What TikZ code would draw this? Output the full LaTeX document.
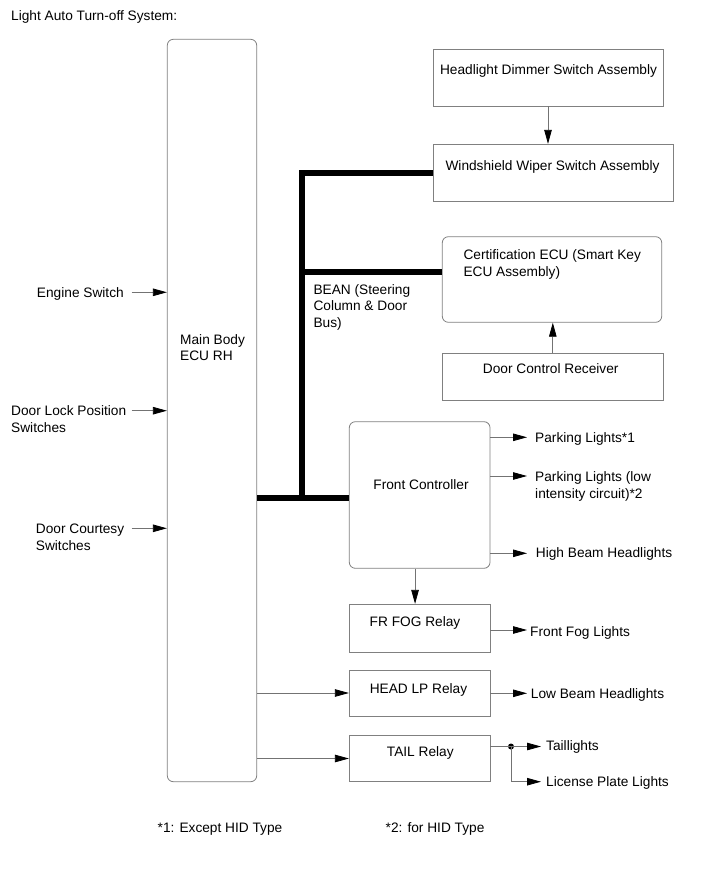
\documentclass[tikz,border=0pt]{standalone}
\usepackage{fontspec}
\setmainfont{Liberation Sans}
\usetikzlibrary{arrows.meta}

\begin{document}
\begin{tikzpicture}
[x=1pt,y=-1pt,
 box/.style={draw=black!50,line width=0.8pt,inner sep=0pt},
 rbox/.style={box,rounded corners=6pt},
 txt/.style={inner sep=0pt,font=\fontsize{13.7}{16.8}\selectfont,align=left},
 line/.style={draw=black!55,line width=0.8pt},
 arr/.style={line,-{Triangle[length=14pt,width=7.5pt,color=black]}},
 bus/.style={line width=6pt,black}]
\useasboundingbox (0,0) rectangle (713,882);
\node[txt,anchor=base west] (title) at (11,20.3) {Light Auto Turn-off System:};
% boxes
\node[rbox,minimum width=89.4pt,minimum height=742.4pt] (main) at (212,410.5) {};
\node[box,minimum width=230pt,minimum height=56.7pt] (dim) at (548,77.65) {};
\node[box,minimum width=240pt,minimum height=56.7pt] (wiper) at (553,172.65) {};
\node[rbox,minimum width=219.4pt,minimum height=85.6pt] (cert) at (552,279.5) {};
\node[box,minimum width=221pt,minimum height=46.7pt] (dcr) at (552.8,376.65) {};
\node[rbox,minimum width=140.7pt,minimum height=146.6pt] (fc) at (419.65,495) {};
\foreach \n/\y/\h in {fog/628.5/48.4,head/693/46,tail/758.5/46.4}
  \node[box,minimum width=140.7pt,minimum height=\h pt] (\n) at (419.65,\y) {};
% box texts (multi-line nodes sit on their last line)
\node[txt,anchor=base west] (maint) at (180,360.8) {Main Body\\ECU RH};
\node[txt,anchor=base] (dimt) at (548.5,74.3) {Headlight Dimmer Switch Assembly};
\node[txt,anchor=base] (wipert) at (552.5,170.7) {Windshield Wiper Switch Assembly};
\node[txt,anchor=base west] (certt) at (463.3,276.3) {Certification ECU (Smart Key\\ECU Assembly)};
\node[txt,anchor=base] (dcrt) at (550.7,373.3) {Door Control Receiver};
\node[txt,anchor=base] (fct) at (421,489) {Front Controller};
\node[txt,anchor=base] (fogt) at (415,626.7) {FR FOG Relay};
\node[txt,anchor=base] (headt) at (418.5,693.7) {HEAD LP Relay};
\node[txt,anchor=base] (tailt) at (420.3,756.7) {TAIL Relay};
\node[txt,anchor=base west] (bean) at (313.3,327.6) {BEAN (Steering\\Column \& Door\\Bus)};
% inputs and outputs
\node[txt,anchor=base east] (eng) at (124,297.3) {Engine Switch};
\node[txt,anchor=base west] (dlock) at (11,432.1) {Door Lock Position\\Switches};
\node[txt,anchor=base west] (dcourt) at (35.7,550.1) {Door Courtesy\\Switches};
\node[txt,anchor=base west] (park1) at (535,442.3) {Parking Lights*1};
\node[txt,anchor=base west] (park2) at (535,498.5) {Parking Lights (low\\intensity circuit)*2};
\node[txt,anchor=base west] (hibeam) at (535.7,557.3) {High Beam Headlights};
\node[txt,anchor=base west] (foglt) at (530,636) {Front Fog Lights};
\node[txt,anchor=base west] (lobeam) at (530.7,698.7) {Low Beam Headlights};
\node[txt,anchor=base west] (taillt) at (546,750.7) {Taillights};
\node[txt,anchor=base west] (plate) at (546,786.7) {License Plate Lights};
\node[txt,anchor=base west] (note1) at (157.5,832.5) {*1: Except HID Type};
\node[txt,anchor=base west] (note2) at (385.5,832.5) {*2: for HID Type};
% pins
\coordinate (engp) at (131.7,292.3);
\coordinate (dlockp) at (131.7,410.7);
\coordinate (dcourtp) at (131.7,528.3);
\coordinate (park1p) at (527,437.3);
\coordinate (park2p) at (527,476);
\coordinate (hibeamp) at (527,553.3);
\coordinate (foglp) at (527,630);
\coordinate (lobeamp) at (527,693.3);
\coordinate (taillp) at (541,746.5);
\coordinate (platep) at (541,781.7);
\foreach \p in {engp,dlockp,dcourtp} \draw[arr] (\p) -- (\p -| main.west);
\foreach \p in {park1p,park2p,hibeamp} \draw[arr] (fc.east |- \p) -- (\p);
\draw[arr] (fog.east |- foglp) -- (foglp);
\draw[arr] (head.east |- lobeamp) -- (lobeamp);
\draw[arr] (dim.south) -- (dim.south |- wiper.north);
\draw[arr] (dcr.north) -- (dcr.north |- cert.south);
\draw[arr] ([xshift=-4.6pt]fc.south) -- ([xshift=-4.6pt]fog.north);
\draw[arr] (main.east |- head.west) -- (head.west);
\draw[arr] (main.east |- tail.west) -- (tail.west);
% tail split
\node[circle,fill,inner sep=0pt,minimum size=6pt] (tdot) at (511,746.5) {};
\draw[line] (tail.east |- tdot) -- (tdot.center);
\draw[arr] (tdot.center) -- (taillp);
\draw[arr] (tdot.center) |- (platep);
% BEAN bus
\coordinate (busj) at (302,498);
\coordinate (busc) at ([yshift=7.5pt]cert.west);
\draw[bus] (wiper.west) -| (busj);
\draw[bus] (busc) -- (busc -| busj);
\draw[bus] (main.east |- busj) -- (fc.west |- busj);
\end{tikzpicture}
\end{document}
